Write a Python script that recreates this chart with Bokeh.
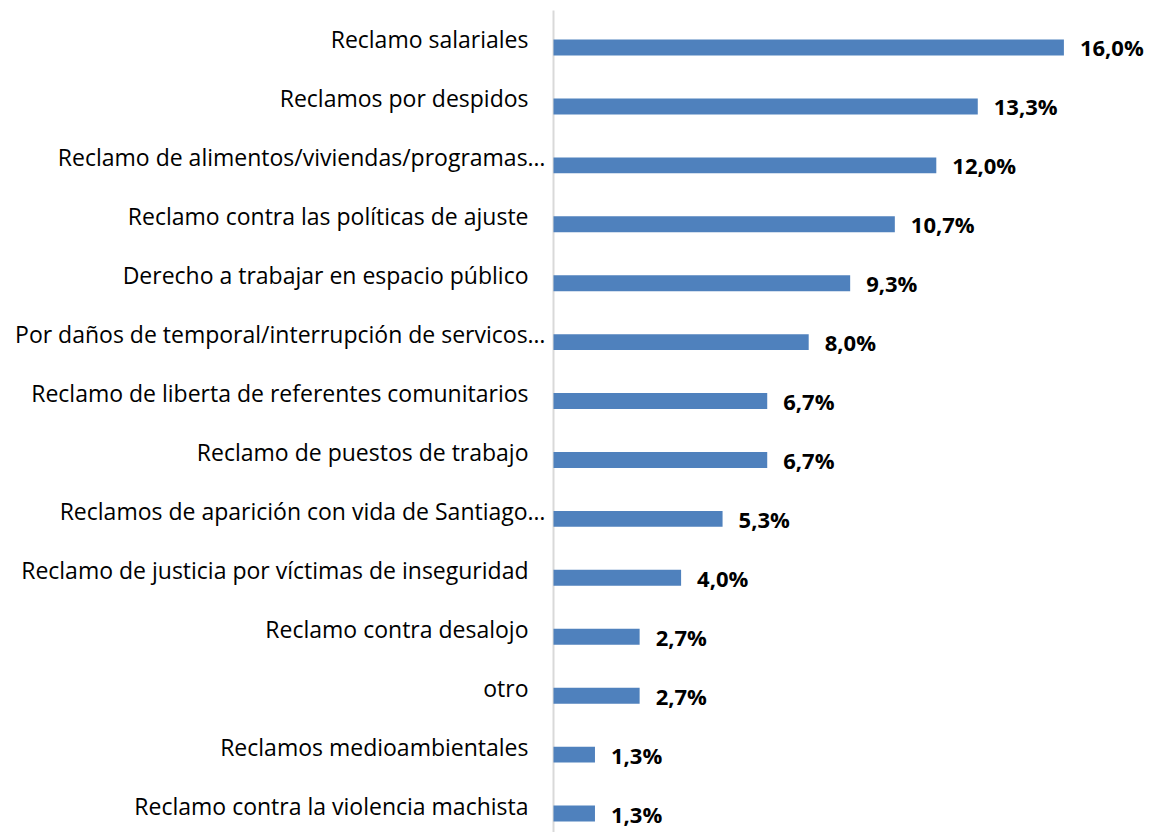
from bokeh.plotting import figure
from bokeh.models import Range1d, ColumnDataSource
from bokeh.core.properties import value
from bokeh.embed import file_html
from bokeh.resources import INLINE

categories = [
    "Reclamo salariales",
    "Reclamos por despidos",
    "Reclamo de alimentos/viviendas/programas…",
    "Reclamo contra las políticas de ajuste",
    "Derecho a trabajar en espacio público",
    "Por daños de temporal/interrupción de servicos…",
    "Reclamo de liberta de referentes comunitarios",
    "Reclamo de puestos de trabajo",
    "Reclamos de aparición con vida de Santiago…",
    "Reclamo de justicia por víctimas de inseguridad",
    "Reclamo contra desalojo",
    "otro",
    "Reclamos medioambientales",
    "Reclamo contra la violencia machista",
]
values = [16.0, 13.3, 12.0, 10.7, 9.3, 8.0, 6.7, 6.7, 5.3, 4.0, 2.7, 2.7, 1.3, 1.3]
value_labels = ["16,0%", "13,3%", "12,0%", "10,7%", "9,3%", "8,0%", "6,7%", "6,7%",
                "5,3%", "4,0%", "2,7%", "2,7%", "1,3%", "1,3%"]

idx = list(range(len(categories)))
src = ColumnDataSource(dict(y=idx, v=values, cat=categories, lab=value_labels))

W, H = 1151, 832
px_per_unit = 31.9
x0_px = 553  # axis position inside the frame
y_top, y_bot = -0.7976, 13.322
p = figure(width=W, height=H, output_backend="svg", toolbar_location=None,
           x_range=Range1d(-x0_px / px_per_unit, (W - x0_px) / px_per_unit),
           y_range=Range1d(y_bot, y_top), min_border=0)
p.axis.visible = False
p.grid.visible = False
p.outline_line_color = None
p.background_fill_color = "white"

# vertical category axis line
p.segment(x0=[0], x1=[0], y0=[y_top + 0.17], y1=[y_bot], line_color="#D9D9D9", line_width=2)

p.hbar(y="y", left=0, right="v", height=0.27, source=src,
       fill_color="#4F81BD", line_color=None)

# category labels
src_cat_a = ColumnDataSource(dict(y=[i for i in idx if not categories[i].endswith("…")],
                                  cat=[c for c in categories if not c.endswith("…")]))
src_cat_b = ColumnDataSource(dict(y=[i for i in idx if categories[i].endswith("…")],
                                  cat=[c for c in categories if c.endswith("…")]))
for s, off in ((src_cat_a, -25), (src_cat_b, -8)):
    p.text(x=0, y="y", text="cat", source=s, x_offset=off, y_offset=-8,
           text_align="right", text_baseline="middle",
           text_font=value("Open Sans"), text_font_size="23px", text_color="#000000")

p.text(x="v", y="y", text="lab", source=src, x_offset=16, y_offset=0,
       text_align="left", text_baseline="middle",
       text_font=value("Open Sans"), text_font_style="bold", text_font_size="22px",
       text_color="#000000")

open("out.html", "w").write(file_html(p, INLINE))
